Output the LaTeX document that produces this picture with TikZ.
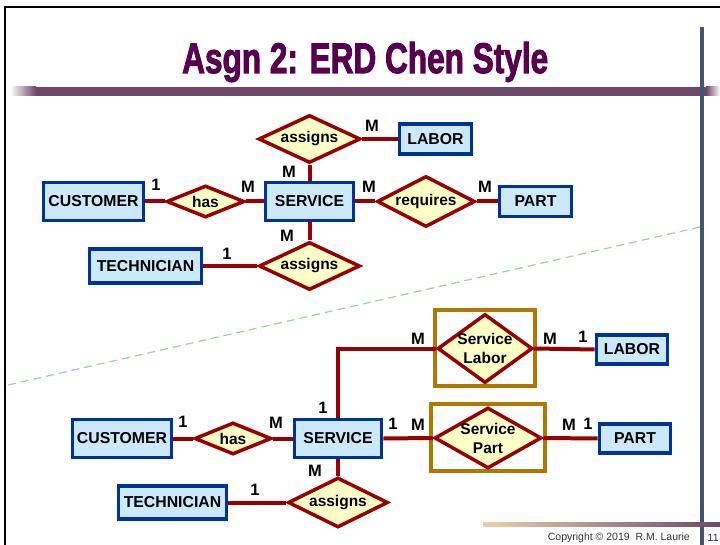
\documentclass[tikz,border=0pt]{standalone}
\usepackage{graphicx}
\usepackage{fontspec}
\setmainfont{Liberation Sans}
\newfontfamily\titlefont{Liberation Sans}[UprightFeatures={FakeBold=2.6}, BoldFeatures={FakeBold=2.6}]
\usetikzlibrary{shapes.geometric}

\definecolor{entblue}{HTML}{003399}
\definecolor{entfill}{HTML}{CCE9FB}
\definecolor{relred}{HTML}{990000}
\definecolor{relfill}{HTML}{FFFFC8}
\definecolor{assocbrown}{HTML}{B07800}
\definecolor{titlepurple}{HTML}{580050}
\definecolor{barpurple}{HTML}{6E4868}
\definecolor{slate}{HTML}{3D5673}
\definecolor{dashgreen}{HTML}{99D699}
\definecolor{bartan}{HTML}{E8D2AC}

\tikzset{
  ent/.style={rectangle, draw=entblue, line width=3.8pt, fill=entfill, inner sep=0pt,
    font=\bfseries\fontsize{15.8}{15.8}\selectfont},
  relship/.style={diamond, draw=relred, line width=3.5pt, fill=relfill, inner sep=0pt},
  reltext/.style={inner sep=0pt, align=center, font=\bfseries\fontsize{15.5}{19}\selectfont},
  assocbox/.style={rectangle, draw=assocbrown, line width=4pt, inner sep=0pt},
  conn/.style={draw=relred, line width=4pt},
  card/.style={inner sep=0pt, font=\bfseries\fontsize{16.5}{16.5}\selectfont},
}

\begin{document}
\begin{tikzpicture}[x=1pt, y=-1pt]
\useasboundingbox (0,0) rectangle (720,545);
\clip (0,0) rectangle (720,545);
\fill[white] (0,0) rectangle (720,545);

% slide frame
\draw[line width=2.2pt] (5,545) -- (5,7) -- (720,7);

% title and its underline bar
\node[anchor=base west, inner sep=0pt, text=titlepurple] (title) at (182,73)
  {\resizebox{366pt}{31pt}{\titlefont\bfseries Asgn 2: ERD Chen Style}};
\shade[left color=white, right color=barpurple] (10,87) rectangle (36,96);
\fill[barpurple] (36,87) rectangle (706,96);
\shade[left color=barpurple, right color=white] (706,87) rectangle (720,96);

% right margin rule
\draw[slate, line width=3.5pt] (702,27) -- (702,545);

% footer bar and text
\shade[left color=bartan, right color=barpurple] (483,522) rectangle (720,526);
\node[anchor=east, inner sep=0pt, text=black!80, font=\fontsize{10.5}{10.5}\selectfont] (copy) at (690,538)
  {Copyright \textcopyright{} 2019\ \ R.M. Laurie};
\node[anchor=west, inner sep=0pt, text=black!80, font=\fontsize{10.5}{10.5}\selectfont] (pageno) at (707.5,538) {11};

% separator between the two versions
\draw[dashgreen, line width=1.2pt, dash pattern=on 8pt off 5pt] (8,385) -- (700,227);

% ---------- upper diagram ----------
\node[ent, minimum width=100pt, minimum height=38pt] (cust1) at (93.5,201.5) {CUSTOMER};
\node[relship, minimum width=78pt, minimum height=32pt] (has1) at (205.5,201.5) {};
\node[reltext] (has1t) at (has1) {has};
\node[ent, minimum width=88pt, minimum height=38pt] (serv1) at (309.5,201.5) {SERVICE};
\node[relship, minimum width=98pt, minimum height=51pt] (req1) at (426,201.5) {};
\node[reltext] (req1t) at (req1) {requires};
\node[ent, minimum width=72pt, minimum height=30pt] (part1) at (535.5,201.5) {PART};
\node[relship, minimum width=102pt, minimum height=48pt] (asg1) at (309.5,139) {};
\node[reltext] (asg1t) at (asg1) {assigns};
\node[ent, minimum width=72pt, minimum height=30pt] (labor1) at (435.5,139) {LABOR};
\node[ent, minimum width=112pt, minimum height=34pt] (tech1) at (145.5,266) {TECHNICIAN};
\node[relship, minimum width=101pt, minimum height=48pt] (asg2) at (309.5,266) {};
\node[reltext] (asg2t) at (asg2) {assigns};

\draw[conn] (cust1.east) -- (has1.west);
\draw[conn] (has1.east) -- (serv1.west);
\draw[conn] (serv1.east) -- (req1.west);
\draw[conn] (req1.east) -- (part1.west);
\draw[conn] (serv1.north) -- (asg1.south);
\draw[conn] (asg1.east) -- (labor1.west);
\draw[conn] (serv1.south) -- (asg2.north);
\draw[conn] (tech1.east) -- (asg2.west);

\node[card] (c1) at (156,185) {1};
\node[card] (c2) at (248,187) {M};
\node[card] (c3) at (289,172) {M};
\node[card] (c4) at (287,236) {M};
\node[card] (c5) at (227,254) {1};
\node[card] (c6) at (372,126) {M};
\node[card] (c7) at (369,187) {M};
\node[card] (c8) at (485,187) {M};

% ---------- lower diagram ----------
\node[ent, minimum width=99pt, minimum height=38pt] (cust2) at (122,438.5) {CUSTOMER};
\node[relship, minimum width=77pt, minimum height=32pt] (has2) at (233,438.5) {};
\node[reltext] (has2t) at (has2) {has};
\node[ent, minimum width=87pt, minimum height=38pt] (serv2) at (338,438.5) {SERVICE};
\node[assocbox, minimum width=100pt, minimum height=76pt] (slbox) at (485,348) {};
\node[relship, minimum width=95pt, minimum height=69pt] (sl) at (485,348.5) {};
\node[reltext] (slt) at (sl) {Service\\Labor};
\node[ent, minimum width=71pt, minimum height=29pt] (labor2) at (632,349.5) {LABOR};
\node[assocbox, minimum width=114pt, minimum height=67pt] (spbox) at (488,437.5) {};
\node[relship, minimum width=107pt, minimum height=61pt] (sp) at (488,438) {};
\node[reltext] (spt) at (sp) {Service\\Part};
\node[ent, minimum width=71pt, minimum height=29pt] (part2) at (635,438.5) {PART};
\node[ent, minimum width=108pt, minimum height=33pt] (tech2) at (172.5,502.5) {TECHNICIAN};
\node[relship, minimum width=100pt, minimum height=50pt] (asg3) at (338,502.5) {};
\node[reltext] (asg3t) at (asg3) {assigns};

\draw[conn] (cust2.east) -- (has2.west);
\draw[conn] (has2.east) -- (serv2.west);
\draw[conn] (serv2.east) -- (sp.west);
\draw[conn] (sp.east) -- (part2.west);
\draw[conn] (serv2.north) |- (sl.west);
\draw[conn] (sl.east) -- (labor2.west);
\draw[conn] (serv2.south) -- (asg3.north);
\draw[conn] (tech2.east) -- (asg3.west);

\node[card] (d1) at (183,422) {1};
\node[card] (d2) at (276,423) {M};
\node[card] (d3) at (323,408) {1};
\node[card] (d4) at (315,471) {M};
\node[card] (d5) at (255,490) {1};
\node[card] (d6) at (418,339) {M};
\node[card] (d7) at (550,339) {M};
\node[card] (d8) at (583,337) {1};
\node[card] (d9) at (393,424) {1};
\node[card] (d10) at (418,425) {M};
\node[card] (d11) at (569,425) {M};
\node[card] (d12) at (588,424) {1};
\end{tikzpicture}
\end{document}
